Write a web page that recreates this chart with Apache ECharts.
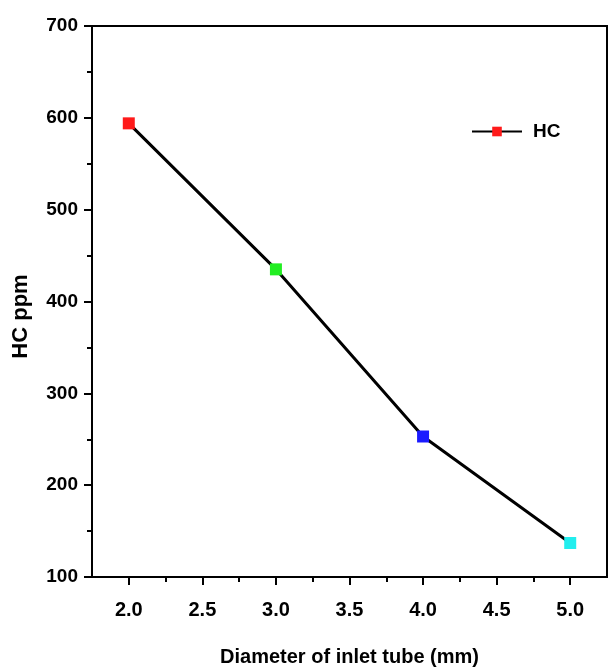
<!DOCTYPE html>
<html>
<head>
<meta charset="utf-8">
<script src="https://cdn.jsdelivr.net/npm/echarts@6/dist/echarts.min.js"></script>
<style>
  html, body { margin: 0; padding: 0; background: #fff; }
  #chart { width: 609px; height: 668px; }
</style>
</head>
<body>
<div id="chart"></div>
<script>
// HC emissions versus inlet tube diameter
const diameters = [2.0, 3.0, 4.0, 5.0];
const hcPpm = [594, 435, 253, 137];
const pointColors = ['#ff1a1a', '#22ee22', '#1a1aff', '#22eeee'];
const xLabelValues = [2.0, 2.5, 3.0, 3.5, 4.0, 4.5, 5.0];
const xMinorTickValues = [2.25, 2.75, 3.25, 3.75, 4.25, 4.75];

const font = '"Liberation Sans", Arial, sans-serif';

const chart = echarts.init(document.getElementById('chart'), null, { renderer: 'canvas' });

chart.setOption({
  animation: false,
  backgroundColor: '#fff',
  grid: {
    left: 92, right: 2, top: 26, bottom: 91,
    outerBoundsMode: 'none', containLabel: false,
    show: true, borderColor: '#000', borderWidth: 2, backgroundColor: 'transparent'
  },
  legend: {
    left: 466, top: 117,
    itemWidth: 50, itemHeight: 12,
    data: ['HC'],
    textStyle: { fontFamily: font, fontWeight: 'bold', fontSize: 19, color: '#000', padding: [0, 0, 0, 6] }
  },
  xAxis: [{
    type: 'value', min: 1.75, max: 5.25,
    name: 'Diameter of inlet tube (mm)', nameLocation: 'middle', nameGap: 70,
    nameTextStyle: { fontFamily: font, fontWeight: 'bold', fontSize: 20, color: '#000' },
    axisLine: { show: true, onZero: false, lineStyle: { color: '#000', width: 2 } },
    axisTick: { show: true, customValues: xLabelValues, length: 8, lineStyle: { color: '#000', width: 2 } },
    axisLabel: {
      customValues: xLabelValues, margin: 23,
      fontFamily: font, fontWeight: 'bold', fontSize: 20, color: '#000',
      formatter: v => v.toFixed(1)
    },
    splitLine: { show: false }
  }, {
    // minor ticks between the labelled values
    type: 'value', min: 1.75, max: 5.25, position: 'bottom',
    axisLine: { show: false },
    axisTick: { show: true, customValues: xMinorTickValues, length: 5, lineStyle: { color: '#000', width: 2 } },
    axisLabel: { show: false },
    splitLine: { show: false }
  }],
  yAxis: {
    type: 'value', min: 100, max: 700, interval: 100,
    name: 'HC ppm', nameLocation: 'middle', nameGap: 60, nameRotate: 90,
    nameTextStyle: { fontFamily: font, fontWeight: 'bold', fontSize: 22, color: '#000', padding: [0, 30, 0, 0] },
    axisLine: { show: true, onZero: false, lineStyle: { color: '#000', width: 2 } },
    axisTick: { show: true, length: 8, lineStyle: { color: '#000', width: 2 } },
    minorTick: { show: true, splitNumber: 2, length: 5, lineStyle: { color: '#000', width: 2 } },
    axisLabel: { margin: 14, fontFamily: font, fontWeight: 'bold', fontSize: 19, color: '#000' },
    splitLine: { show: false }
  },
  series: [{
    name: 'HC',
    type: 'line',
    xAxisIndex: 0,
    data: diameters.map((d, i) => ({
      value: [d, hcPpm[i]],
      itemStyle: { color: pointColors[i], borderWidth: 0 }
    })),
    symbol: 'rect',
    symbolSize: 12,
    showAllSymbol: true,
    itemStyle: { color: pointColors[0], borderWidth: 0 },
    lineStyle: { color: '#000', width: 3 },
    emphasis: { disabled: true }
  }]
});
</script>
</body>
</html>
